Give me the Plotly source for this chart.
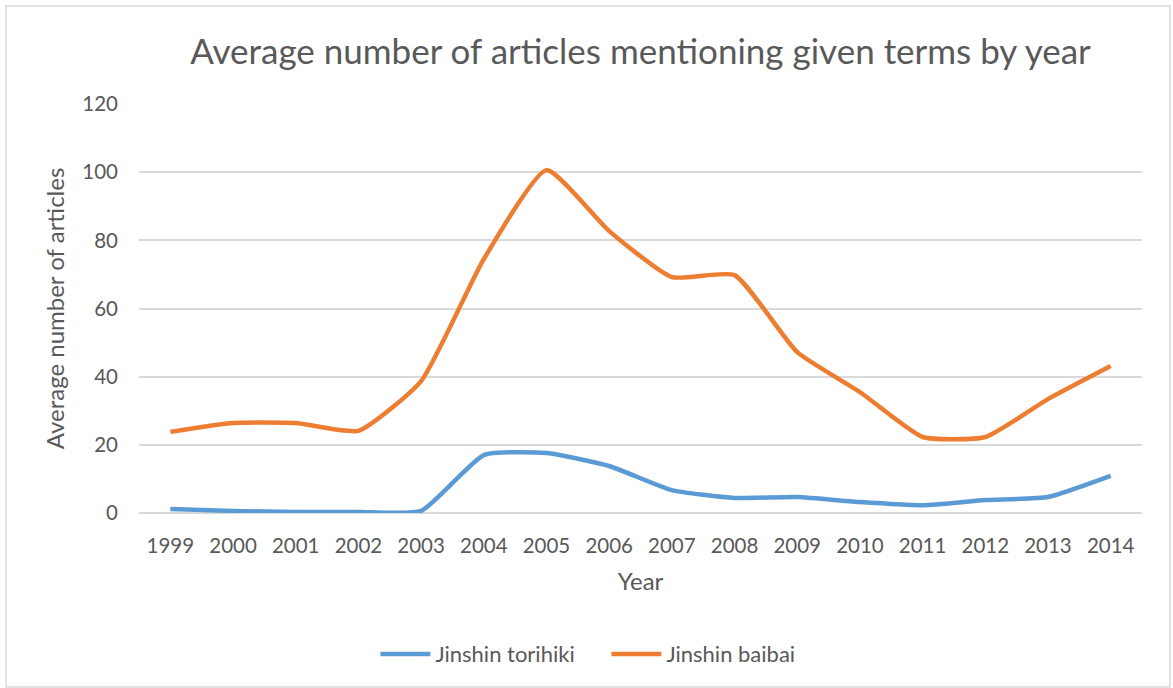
import plotly.graph_objects as go

years = [str(y) for y in range(1999, 2015)]
torihiki = [1.2, 0.6, 0.3, 0.3, 0.6, 17.0, 17.6, 13.8, 6.7, 4.4, 4.7, 3.2, 2.3, 3.8, 4.7, 10.9]
baibai = [23.8, 26.4, 26.4, 24.1, 38.7, 74.5, 100.6, 82.7, 69.2, 69.8, 47.2, 35.5, 22.3, 22.3, 33.4, 43.1]

font = "Lato, 'Open Sans', sans-serif"
grey = "#595959"

fig = go.Figure()
fig.add_trace(go.Scatter(x=years, y=torihiki, name="Jinshin torihiki", mode="lines",
                         line=dict(color="#5B9BD5", width=4.5, shape="spline", smoothing=0.5)))
fig.add_trace(go.Scatter(x=years, y=baibai, name="Jinshin baibai", mode="lines",
                         line=dict(color="#ED7D31", width=4.5, shape="spline", smoothing=0.5)))

fig.update_layout(
    width=1173, height=688,
    margin=dict(l=139, r=31, t=104, b=175),
    paper_bgcolor="white", plot_bgcolor="white",
    font=dict(family=font, color=grey, size=20),
    title=dict(text="Average number of articles mentioning given terms by year",
               x=0.5, xref="paper", y=0.925, yanchor="middle",
               font=dict(size=35, color=grey)),
    xaxis=dict(title=dict(text="Year", font=dict(size=24), standoff=17),
               range=[-0.5, 15.5], showgrid=False, showline=False,
               ticks="", tickfont=dict(size=20.5), ticklabelstandoff=18),
    yaxis=dict(title=dict(text="Average number of articles", font=dict(size=24), standoff=10),
               range=[0, 120], dtick=20, gridcolor="#D9D9D9", gridwidth=1.5,
               zeroline=True, zerolinecolor="#D9D9D9", zerolinewidth=1.5,
               showline=False, ticks="", tickfont=dict(size=20.5), ticklabelstandoff=20),
    legend=dict(orientation="h", x=0.466, xanchor="center", y=-0.345, yanchor="middle",
                font=dict(size=22), itemwidth=50, entrywidth=166),
    showlegend=True,
)

fig.add_shape(type="rect", xref="paper", yref="paper",
              x0=-0.1326, x1=1.0279, y0=-0.4254, y1=1.2396,
              line=dict(color="#D9D9D9", width=1.5), layer="below")

fig.write_html("out.html", config={"displayModeBar": False},
               post_script="document.body.style.margin='0';")
